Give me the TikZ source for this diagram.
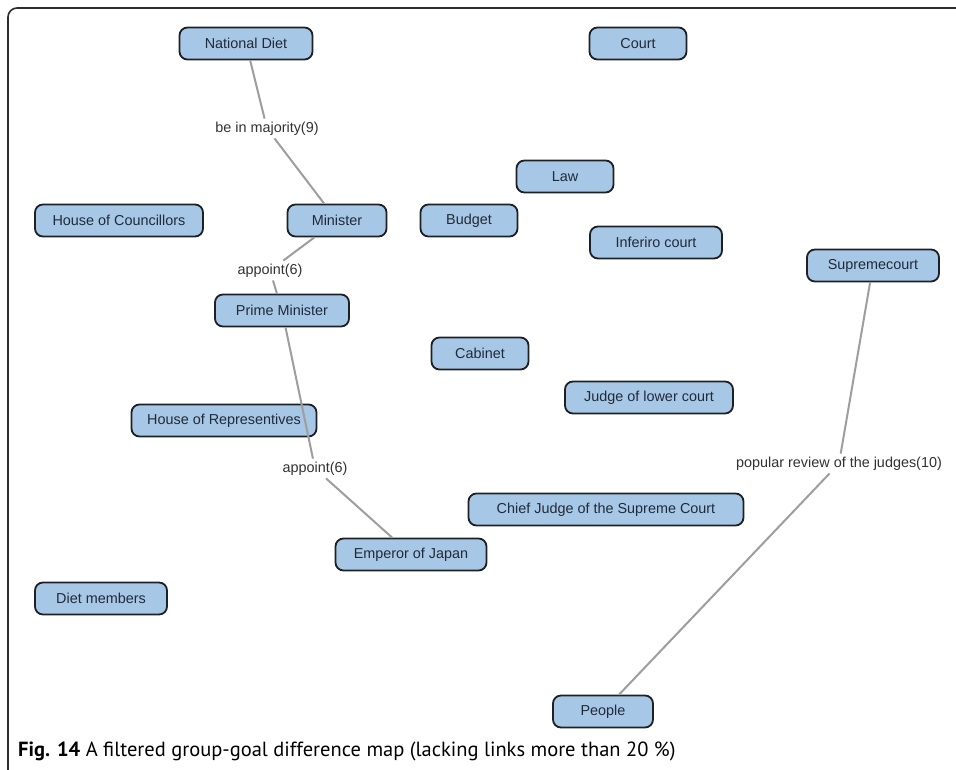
\documentclass[tikz,border=0pt]{standalone}
\usepackage{fontspec}
\setmainfont{Liberation Sans}
\newfontfamily\capfont{PT Sans}
\definecolor{nodefill}{RGB}{166,199,229}
\definecolor{nodeborder}{RGB}{30,32,36}
\definecolor{nodetext}{RGB}{34,42,56}
\definecolor{labeltext}{RGB}{50,50,50}
\definecolor{linkgray}{RGB}{158,158,158}
\definecolor{framecol}{RGB}{45,45,45}
\begin{document}
\begin{tikzpicture}[x=1pt,y=-1pt,
  concept/.style={draw=nodeborder, line width=1.8pt, fill=nodefill,
    rounded corners=8pt, minimum height=32pt, inner sep=0pt,
    text=nodetext, font=\fontsize{14.4}{16}\selectfont},
  linklabel/.style={inner sep=3pt, text=labeltext,
    font=\fontsize{14.4}{16}\selectfont},
  link/.style={draw=linkgray, line width=2pt}]
\useasboundingbox (0,0) rectangle (956,769);
\fill[white] (0,0) rectangle (956,769);

% open frame round the map
\draw[framecol, line width=1.6pt, rounded corners=9pt] (8,770) -- (8,8) -- (957,8);

% concepts
\node[concept, minimum width=133pt] (nd)   at (246,43.5)  {National Diet};
\node[concept, minimum width=97pt]  (crt)  at (638,43.5)  {Court};
\node[concept, minimum width=97pt]  (law)  at (565,176.5) {Law};
\node[concept, minimum width=168pt] (hoc)  at (119,220.5) {House of Councillors};
\node[concept, minimum width=99pt]  (min)  at (337,220.5) {Minister};
\node[concept, minimum width=97pt]  (bud)  at (469,220.5) {Budget};
\node[concept, minimum width=132pt] (inf)  at (656,242.5) {Inferiro court};
\node[concept, minimum width=132pt] (sup)  at (873,265.5) {Supremecourt};
\node[concept, minimum width=134pt] (pm)   at (282,310.5) {Prime Minister};
\node[concept, minimum width=97pt]  (cab)  at (480,353.5) {Cabinet};
\node[concept, minimum width=168pt] (jlc)  at (649,397.5) {Judge of lower court};
\node[concept, minimum width=185pt] (hor)  at (224,420.5) {House of Representives};
\node[concept, minimum width=275pt] (cj)   at (606,509.5) {Chief Judge of the Supreme Court};
\node[concept, minimum width=151pt] (emp)  at (411,554.5) {Emperor of Japan};
\node[concept, minimum width=132pt] (dm)   at (101,598.5) {Diet members};
\node[concept, minimum width=100pt] (ppl)  at (603,711.5) {People};

% link phrases
\node[linklabel] (l1) at (267,128.5) {be in majority(9)};
\node[linklabel] (l2) at (270,270.5) {appoint(6)};
\node[linklabel] (l3) at (315,468.5) {appoint(6)};
\node[linklabel] (l4) at (839,463.5) {popular review of the judges(10)};

% links
\draw[link] (nd) -- (l1);
\draw[link] (l1) -- (min);
\draw[link] (min) -- (l2);
\draw[link] (l2) -- (pm);
\draw[link] (pm) -- (l3);
\draw[link] (l3) -- (emp);
\draw[link] (sup) -- (l4);
\draw[link] (l4) -- (ppl);

% caption
\node[anchor=base west, inner sep=0pt, text=black, font=\capfont\fontsize{20.5}{22}\selectfont] (cap) at (18,756)
  {\textbf{Fig. 14} A filtered group-goal difference map (lacking links more than 20~\%)};
\end{tikzpicture}
\end{document}
